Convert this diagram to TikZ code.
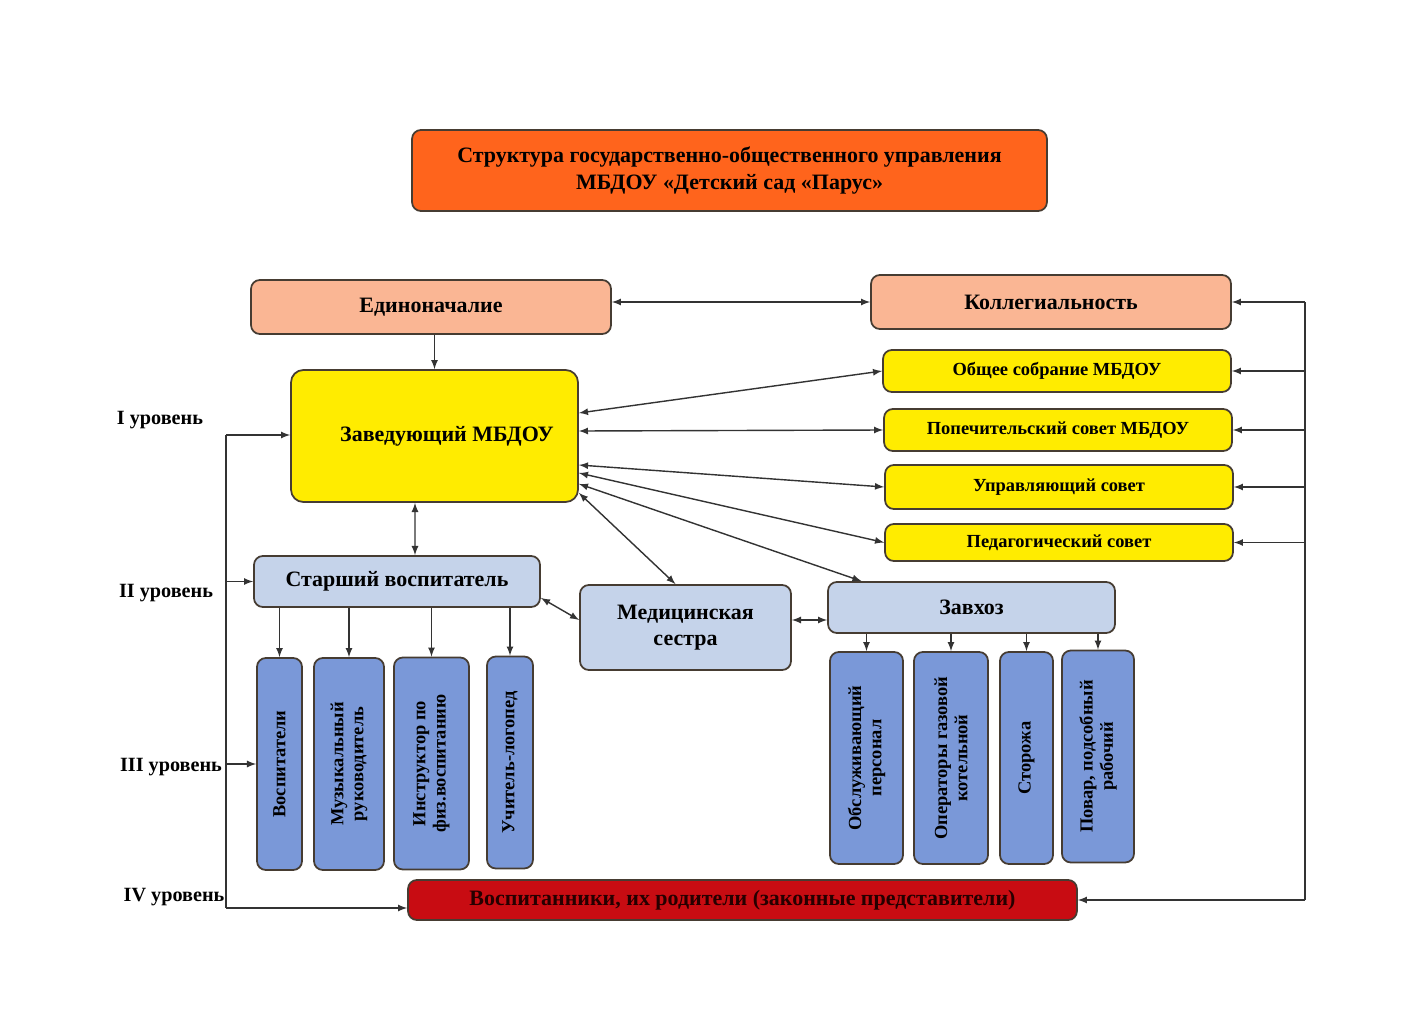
\documentclass[tikz,border=0pt]{standalone}
\usepackage{fontspec}
\setmainfont{Liberation Serif}
\usetikzlibrary{arrows}
\definecolor{titleor}{RGB}{255,100,28}
\definecolor{salmon}{RGB}{250,182,148}
\definecolor{zavyel}{RGB}{255,236,0}
\definecolor{lblue}{RGB}{197,211,234}
\definecolor{mblue}{RGB}{122,152,216}
\definecolor{darkred}{RGB}{200,12,18}
\definecolor{edge}{RGB}{70,60,50}
\begin{document}
\begin{tikzpicture}[x=0.02cm,y=-0.02cm,>=latex,
  box/.style={draw=edge,line width=1pt,rounded corners=5pt,inner sep=1pt,align=center,
    font=\bfseries\fontsize{12.5}{15}\selectfont},
  council/.style={box,fill=zavyel,minimum width=6.96cm,font=\bfseries\fontsize{10.5}{12}\selectfont},
  staff/.style={box,fill=mblue,rotate=90,minimum width=4.24cm,font=\bfseries\fontsize{10.5}{11.5}\selectfont},
  level/.style={font=\bfseries\fontsize{11.5}{13}\selectfont},
  conn/.style={draw=black!80,line width=0.8pt}]
  \fill[white] (0,0) rectangle (1409,1024);
  \useasboundingbox (0,0) rectangle (1409,1024);
  \node[box,fill=titleor,minimum width=12.7cm,minimum height=1.62cm](title) at(729.5,170.5)
    {Структура государственно-общественного управления\\МБДОУ «Детский сад «Парус»};
  \node[box,fill=salmon,minimum width=7.2cm,minimum height=1.08cm](edin) at(431,307){Единоначалие};
  \node[box,fill=salmon,minimum width=7.2cm,minimum height=1.08cm](koll) at(1051,302){Коллегиальность};
  \node[box,fill=zavyel,rounded corners=7pt,minimum width=5.74cm,minimum height=2.64cm](zav) at(434.5,436)
    {\hspace*{0.5cm}Заведующий МБДОУ};
  \node[council,minimum height=0.84cm](obsh) at(1057,371){Общее собрание МБДОУ};
  \node[council,minimum height=0.84cm](popech) at(1058,430){Попечительский совет МБДОУ};
  \node[council,minimum height=0.88cm](upr) at(1059,487){Управляющий совет};
  \node[council,minimum height=0.74cm](ped) at(1059,542.5){Педагогический совет};
  \node[box,fill=lblue,minimum width=5.72cm,minimum height=1.02cm](starsh) at(397,581.5){Старший воспитатель};
  \node[box,fill=lblue,minimum width=4.22cm,minimum height=1.7cm](med) at(685.5,627.5){Медицинская\\сестра};
  \node[box,fill=lblue,minimum width=5.74cm,minimum height=1.02cm](zavhoz) at(971.5,607.5){Завхоз};
  \node[staff,minimum height=0.9cm](vosp) at(279.5,764){Воспитатели};
  \node[staff,minimum height=1.4cm](muz) at(349,764){Музыкальный\\руководитель};
  \node[staff,minimum height=1.5cm](instr) at(431.5,763.5){Инструктор по\\физ.воспитанию};
  \node[staff,minimum height=0.92cm](logo) at(510,762.5){Учитель-логопед};
  \node[staff,minimum height=1.46cm](obsl) at(866.5,758){Обслуживающий\\персонал};
  \node[staff,minimum height=1.48cm](oper) at(951,758){Операторы газовой\\котельной};
  \node[staff,minimum height=1.06cm](stor) at(1026.5,758){Сторожа};
  \node[staff,minimum height=1.44cm](povar) at(1098,756.5){Повар, подсобный\\рабочий};
  \node[box,fill=darkred,text=black!85!red,minimum width=13.38cm,minimum height=0.8cm](pupils) at(742.5,900)
    {Воспитанники, их родители (законные представители)};
  \node[level](lv1) at(160,420){I уровень};
  \node[level](lv2) at(166,593){II уровень};
  \node[level](lv3) at(171,767){III уровень};
  \node[level](lv4) at(174,897){IV уровень};
  \draw[conn,<->](edin.east |- koll.west)--(koll.west);
  \draw[conn,->](edin.south -| zav.north)--(zav.north);
  \draw[conn,<->]([yshift=0.46cm]zav.east)--(obsh.west);
  \draw[conn,<->]([yshift=0.1cm]zav.east)--(popech.west);
  \draw[conn,<->]([yshift=-0.58cm]zav.east)--(upr.west);
  \draw[conn,<->]([yshift=-0.74cm]zav.east)--(ped.west);
  \draw[conn,<->]([yshift=0.38cm]zav.south east)--([xshift=-2.2cm]zavhoz.north);
  \draw[conn,<->]([yshift=0.2cm]zav.south east)--([xshift=-0.2cm]med.north);
  \draw[conn,<->]([xshift=-0.39cm]zav.south)--([xshift=0.36cm]starsh.north);
  \draw[conn,<->]([yshift=0.2cm]starsh.south east)--([yshift=0.15cm]med.west);
  \coordinate(mz) at([yshift=0.15cm]med.east);
  \draw[conn,<->](mz)--(mz -| zavhoz.west);
  \foreach \n in {vosp,muz,instr,logo}
    \draw[conn,->](starsh.south -| \n)--(\n);
  \foreach \n in {obsl,oper,stor,povar}
    \draw[conn,->](zavhoz.south -| \n)--(\n);
  \coordinate(lt) at(226,435);
  \coordinate(lb) at(226,908);
  \draw[conn](lt)--(lb);
  \draw[conn,->](lt)--(lt -| zav.west);
  \draw[conn,->](lt |- starsh.west)--(starsh.west);
  \draw[conn,->](lt |- vosp)--(vosp);
  \draw[conn,->](lb)--(lb -| pupils.west);
  \coordinate(rt) at(1305,302);
  \coordinate(rb) at(1305,900);
  \draw[conn](rt)--(rb);
  \draw[conn,->](rt)--(koll.east);
  \foreach \n in {obsh,popech,upr,ped}
    \draw[conn,->](rt |- \n.east)--(\n.east);
  \draw[conn,->](rb)--(pupils.east);
\end{tikzpicture}
\end{document}
